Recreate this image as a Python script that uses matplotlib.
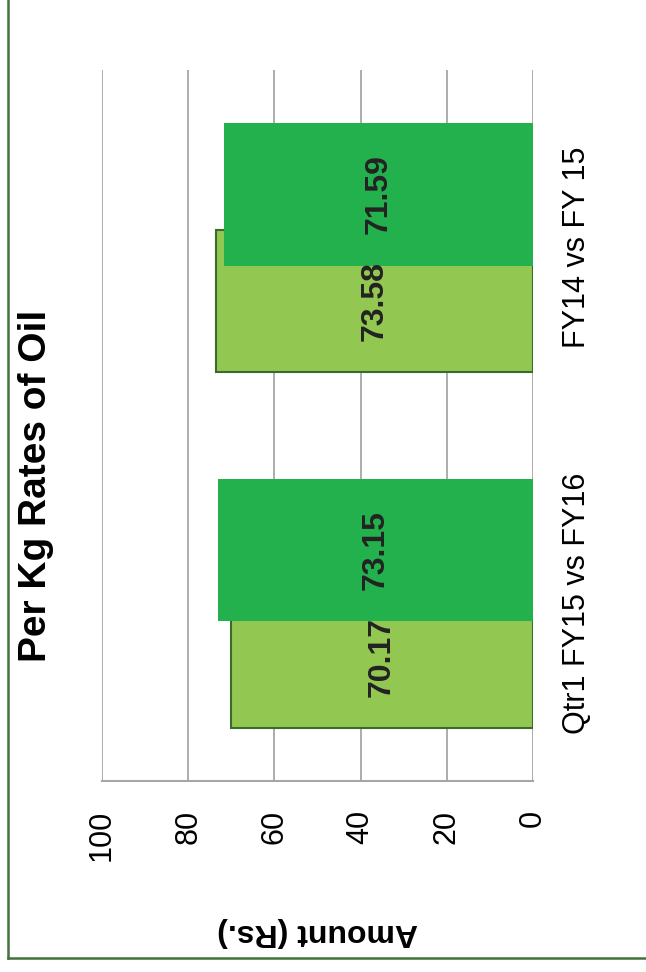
"""Per Kg rates of oil: clustered bar chart, drawn turned on its side as in the report."""

import matplotlib

matplotlib.use("Agg")
import matplotlib.pyplot as plt
from matplotlib.lines import Line2D
import numpy as np

plt.rcParams["font.family"] = ["Liberation Sans", "DejaVu Sans"]

categories = ["Qtr1 FY15 vs FY16", "FY14 vs FY 15"]
earlier_rates = [70.17, 73.58]   # light green series
later_rates = [73.15, 71.59]     # dark green series
value_ticks = [0, 20, 40, 60, 80, 100]

LIGHT = "#92c851"
DARK = "#23b14d"
EDGE = "#3b6b2c"
GRID = "#a6a6a6"

fig = plt.figure(figsize=(6.46, 9.72), dpi=100)
ax = fig.add_axes([0.1579, 0.1965, 0.6672, 0.7315])

pos = np.arange(len(categories))
h = 0.4
light = ax.barh(pos - 0.15, earlier_rates, height=h, color=LIGHT,
                edgecolor=EDGE, linewidth=1.5, zorder=2)
dark = ax.barh(pos + 0.15, later_rates, height=h, color=DARK,
               edgecolor="none", zorder=3)

for bars in (light, dark):
    ax.bar_label(bars, fmt="%.2f", label_type="center", rotation=90,
                 fontsize=23, fontweight="bold", color="#222222")

# value axis runs right-to-left: 0 on the right, 100 on the left
ax.set_xlim(100, 0)
ax.set_ylim(-0.5, 1.5)
ax.set_xticks(value_ticks)
ax.set_xticklabels([str(v) for v in value_ticks], rotation=90, fontsize=22,
                   va="top", ha="center")
ax.tick_params(axis="x", length=0, pad=21)

ax.yaxis.tick_right()
ax.set_yticks(pos)
ax.set_yticklabels(categories, rotation=90, fontsize=22, va="center", ha="left")
ax.tick_params(axis="y", length=0, pad=21)

ax.set_axisbelow(True)
ax.xaxis.grid(True, color=GRID, linewidth=1.3)
for side in ("top", "left", "right"):
    ax.spines[side].set_visible(False)
ax.spines["bottom"].set_color(GRID)
ax.spines["bottom"].set_linewidth(1.5)

ax.set_xlabel("Amount (Rs.)", rotation=180, fontsize=23, fontweight="bold")
ax.xaxis.set_label_coords(0.5, -0.191)

fig.text(0.056, 0.5, "Per Kg Rates of Oil", rotation=90, ha="center",
         va="center", fontsize=28, fontweight="bold")

# chart frame (left and bottom edges survive the crop)
fig.add_artist(Line2D([8 / 646, 8 / 646], [14 / 972, 1.0], color="#41733a",
                      linewidth=1.8, transform=fig.transFigure))
fig.add_artist(Line2D([8 / 646, 1.0], [14 / 972, 14 / 972], color="#41733a",
                      linewidth=1.8, transform=fig.transFigure))

fig.savefig("out.png", dpi=100)
plt.close(fig)
